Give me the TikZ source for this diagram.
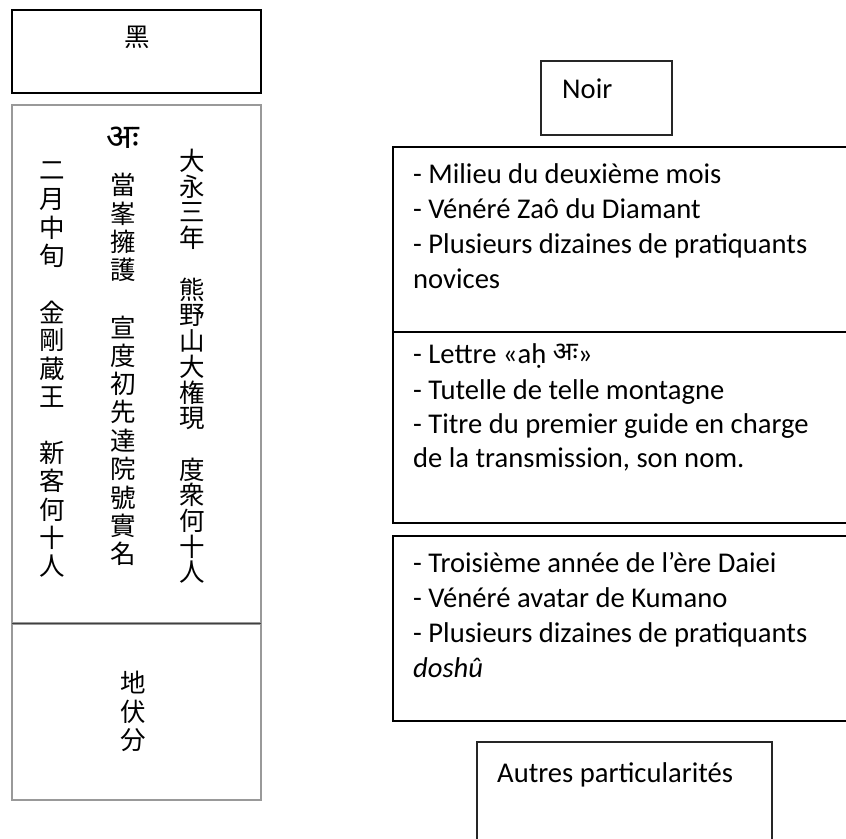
\documentclass[tikz,border=0pt]{standalone}
\usepackage{fontspec}
\setmainfont{Carlito}
\newfontfamily\cjk{Noto Sans CJK JP}
\newfontfamily\deva[Script=Devanagari]{Noto Sans}
\begin{document}
\begin{tikzpicture}[x=1pt,y=-1pt,
  blackbox/.style={draw=black,line width=1.6pt},
  thinbox/.style={draw=black!85,line width=1.2pt},
  graybox/.style={draw=black!40,line width=1.3pt},
  cj/.style={font=\cjk\fontsize{25.5}{25.5}\selectfont,inner sep=0pt},
  txt/.style={font=\fontsize{28.6}{35}\selectfont,inner sep=0pt,anchor=base west}]
\useasboundingbox (0,0) rectangle (846,838);
\clip (0,0) rectangle (846,838);
% left column boxes
\draw[blackbox] (12,10) rectangle (261,93);
\draw[graybox] (12,105) rectangle (261,800);
\draw[black!40,line width=3pt] (12,623) -- (261,623);
\draw[black!75,line width=0.8pt] (12,623) -- (261,623);
\node[cj] (kuro) at (137,37) {黑};
\node[inner sep=0pt,font=\deva\bfseries\fontsize{34}{34}\selectfont] (ah) at (123,138) {अः};
\foreach \c/\i in {二/0,月/1,中/2,旬/3,金/5,剛/6,蔵/7,王/8,新/10,客/11,何/12,十/13,人/14}
  \node[cj] (ca-\i) at (52,171+\i*28.2) {\c};
\foreach \c/\i in {當/0,峯/1,擁/2,護/3,宣/5,度/6,初/7,先/8,達/9,院/10,號/11,實/12,名/13}
  \node[cj] (cb-\i) at (123,185+\i*28.4) {\c};
\foreach \c/\i in {大/0,永/1,三/2,年/3,熊/5,野/6,山/7,大/8,権/9,現/10,度/12,衆/13,何/14,十/15,人/16}
  \node[cj] (cc-\i) at (192,161+\i*25.7) {\c};
\foreach \c/\i in {地/0,伏/1,分/2}
  \node[cj] (cd-\i) at (133,683+\i*28.5) {\c};
% right boxes
\draw[thinbox] (541,61) rectangle (672,135);
\node[txt] (noir) at (562,98) {Noir};
\draw[blackbox] (393,147) rectangle (870,523);
\draw[blackbox] (393,332) -- (870,332);
\draw[blackbox] (393,536) rectangle (870,721);
\draw[thinbox] (477,742) rectangle (772,860);
\node[txt] (t1) at (413,183) {- Milieu du deuxième mois};
\node[txt] (t2) at (413,218) {- Vénéré Zaô du Diamant};
\node[txt] (t3) at (413,253) {- Plusieurs dizaines de pratiquants};
\node[txt] (t4) at (413,288) {novices};
\node[txt] (t5) at (413,363) {- Lettre «aḥ \raisebox{3pt}{\deva\fontsize{26}{26}\selectfont अः}»};
\node[txt] (t6) at (413,399) {- Tutelle de telle montagne};
\node[txt] (t7) at (413,433) {- Titre du premier guide en charge};
\node[txt] (t8) at (413,467) {de la transmission, son nom.};
\node[txt] (t9) at (413,572) {- Troisième année de l’ère Daiei};
\node[txt] (t10) at (413,607) {- Vénéré avatar de Kumano};
\node[txt] (t11) at (413,642) {- Plusieurs dizaines de pratiquants};
\node[txt] (t12) at (413,677) {\itshape doshû};
\node[txt] (t13) at (497,782) {Autres particularités};
\end{tikzpicture}
\end{document}
